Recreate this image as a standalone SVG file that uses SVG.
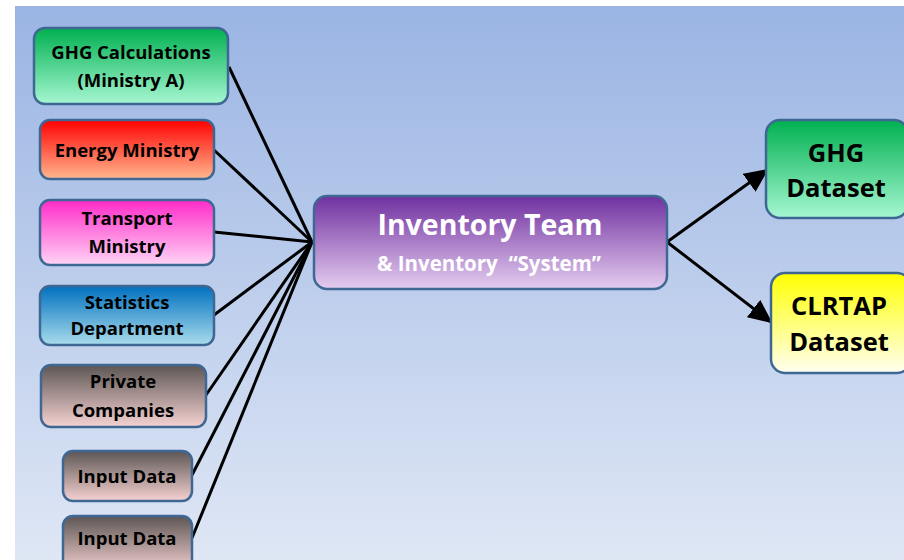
<svg xmlns="http://www.w3.org/2000/svg" width="904" height="560" viewBox="0 0 904 560">
<defs>
<linearGradient id="bg" x1="0" y1="0" x2="0" y2="1"><stop offset="0" stop-color="#9ab4e3"/><stop offset="1" stop-color="#dfe7f5"/></linearGradient>
<linearGradient id="gGreen" x1="0" y1="0" x2="0" y2="1"><stop offset="0" stop-color="#00b050"/><stop offset="1" stop-color="#a6f7d2"/></linearGradient>
<linearGradient id="gRed" x1="0" y1="0" x2="0" y2="1"><stop offset="0" stop-color="#ff0000"/><stop offset="1" stop-color="#ffb890"/></linearGradient>
<linearGradient id="gPink" x1="0" y1="0" x2="0" y2="1"><stop offset="0" stop-color="#ff2bc8"/><stop offset="1" stop-color="#ffd4f6"/></linearGradient>
<linearGradient id="gBlue" x1="0" y1="0" x2="0" y2="1"><stop offset="0" stop-color="#0070c0"/><stop offset="1" stop-color="#a9dceb"/></linearGradient>
<linearGradient id="gGray" x1="0" y1="0" x2="0" y2="1"><stop offset="0" stop-color="#5c5654"/><stop offset="1" stop-color="#f6d2d2"/></linearGradient>
<linearGradient id="gPurple" x1="0" y1="0" x2="0" y2="1"><stop offset="0" stop-color="#7030a0"/><stop offset="1" stop-color="#e4cdef"/></linearGradient>
<linearGradient id="gYellow" x1="0" y1="0" x2="0" y2="1"><stop offset="0" stop-color="#ffff00"/><stop offset="1" stop-color="#fffff2"/></linearGradient>
<marker id="arrow" markerWidth="24" markerHeight="22" refX="22" refY="11" orient="auto" markerUnits="userSpaceOnUse"><path d="M0,0 L24,11 L0,22 Z" fill="#000"/></marker>
</defs>
<style>
.box{stroke:#3e6893;stroke-width:2.5}
.t{font-family:"Open Sans","Liberation Sans",sans-serif;font-weight:700;fill:#000;text-anchor:middle}
.s{font-size:18.5px}
.big{font-size:25.5px}
.w{fill:#fff}
.conn{stroke:#000;stroke-width:3;fill:none}
</style>
<rect x="15" y="6" width="889" height="554" fill="url(#bg)"/>
<g id="connectors">
<line class="conn" x1="229" y1="67" x2="312" y2="242"/>
<line class="conn" x1="214" y1="150" x2="312" y2="242"/>
<line class="conn" x1="214" y1="232" x2="312" y2="242"/>
<line class="conn" x1="214" y1="315" x2="312" y2="242"/>
<line class="conn" x1="206" y1="395" x2="312" y2="242"/>
<line class="conn" x1="192" y1="475" x2="312" y2="242"/>
<line class="conn" x1="192" y1="538" x2="312" y2="242"/>
<line class="conn" x1="667" y1="242" x2="767" y2="170" marker-end="url(#arrow)"/>
<line class="conn" x1="667" y1="242" x2="771" y2="322" marker-end="url(#arrow)"/>
</g>
<g id="ghg-calc">
<rect class="box" x="34" y="28" width="194" height="76" rx="11" fill="url(#gGreen)"/>
<text class="t s" x="131" y="59">GHG Calculations</text>
<text class="t s" x="131" y="87">(Ministry A)</text>
</g>
<g id="energy">
<rect class="box" x="40" y="120" width="174" height="59" rx="10" fill="url(#gRed)"/>
<text class="t s" x="127" y="157">Energy Ministry</text>
</g>
<g id="transport">
<rect class="box" x="40" y="200" width="174" height="65" rx="10" fill="url(#gPink)"/>
<text class="t s" x="127" y="225">Transport</text>
<text class="t s" x="127" y="253">Ministry</text>
</g>
<g id="statistics">
<rect class="box" x="40" y="286" width="174" height="59" rx="10" fill="url(#gBlue)"/>
<text class="t s" x="127" y="309">Statistics</text>
<text class="t s" x="127" y="335">Department</text>
</g>
<g id="private">
<rect class="box" x="41" y="365" width="165" height="62" rx="10" fill="url(#gGray)"/>
<text class="t s" x="123" y="388">Private</text>
<text class="t s" x="123" y="417">Companies</text>
</g>
<g id="input1">
<rect class="box" x="63" y="451" width="129" height="50" rx="10" fill="url(#gGray)"/>
<text class="t s" x="127" y="483">Input Data</text>
</g>
<g id="input2">
<rect class="box" x="63" y="516" width="129" height="56" rx="10" fill="url(#gGray)"/>
<text class="t s" x="127" y="545">Input Data</text>
</g>
<g id="inventory">
<rect class="box" x="314" y="196" width="353" height="93" rx="13" fill="url(#gPurple)"/>
<text class="t w" x="490" y="235" style="font-size:28.5px">Inventory Team</text>
<text class="t w" x="489" y="271" style="font-size:20.5px;white-space:pre">&amp; Inventory  “System”</text>
</g>
<g id="ghg-dataset">
<rect class="box" x="766" y="120" width="142" height="98" rx="14" fill="url(#gGreen)"/>
<text class="t big" x="836" y="162">GHG</text>
<text class="t big" x="836" y="197">Dataset</text>
</g>
<g id="clrtap-dataset">
<rect class="box" x="771" y="273" width="140" height="100" rx="14" fill="url(#gYellow)"/>
<text class="t big" x="839" y="315">CLRTAP</text>
<text class="t big" x="839" y="351">Dataset</text>
</g>
</svg>
